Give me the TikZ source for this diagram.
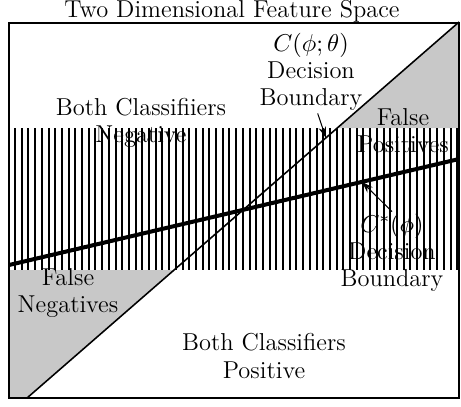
\documentclass[tikz,border=0pt]{standalone}
\usetikzlibrary{arrows.meta,positioning}
\definecolor{regiongray}{HTML}{C8C8C8}
\tikzset{
  lbl/.style={align=center,font=\fontsize{11}{12.2}\selectfont,inner sep=0pt},
  hatch/.style={line width=0.9pt},
  thinb/.style={line width=0.7pt},
  thickb/.style={line width=1.8pt},
  pointer/.style={-{Stealth[length=1.8mm,width=1.2mm]},line width=0.45pt},
}
\begin{document}
\begin{tikzpicture}[x=0.45pt,y=-0.45pt]
  \useasboundingbox (0,0) rectangle (461,406);
  \coordinate (nw) at (9,23);
  \coordinate (se) at (459,398);
  \coordinate (ca) at (27,398);
  \coordinate (cb) at (459,22);
  \coordinate (sa) at (9,265);
  \coordinate (sb) at (459,159);
  \coordinate (ctip) at (326,138);
  \coordinate (stip) at (362,182);
  \fill[regiongray] (337,128) -- (cb) -- (459,128) -- cycle;
  \fill[regiongray] (9,270) -- (174,270) -- (ca) -- (9,398) -- cycle;
  \foreach \i in {0,...,66} \draw[hatch] ({15+\i*6.7},128) -- ++(0,142);
  \draw[thinb] (ca) -- (cb);
  \draw[thickb] (sa) -- (sb);
  \draw[line width=0.9pt] (nw) rectangle (se);
  \node[lbl] (title) at (232,11) {Two Dimensional Feature Space};
  \node[lbl] (clabel) at (311,72) {$C(\phi;\theta)$\\Decision\\Boundary};
  \node[lbl] (bothneg) at (141,123) {Both Classifiiers\\Negative};
  \node[lbl] (falsepos) at (403,131) {False\\Positives};
  \node[lbl] (cstar) at (392,253) {$C^*(\phi)$\\Decision\\Boundary};
  \node[lbl] (falseneg) at (68,293) {False\\Negatives};
  \node[lbl] (bothpos) at (264,356) {Both Classifiers\\Positive};
  \draw[pointer] ([xshift=3pt,yshift=-1pt]clabel.south) -- (ctip);
  \draw[pointer] ([yshift=1pt]cstar.north) -- (stip);
\end{tikzpicture}
\end{document}
